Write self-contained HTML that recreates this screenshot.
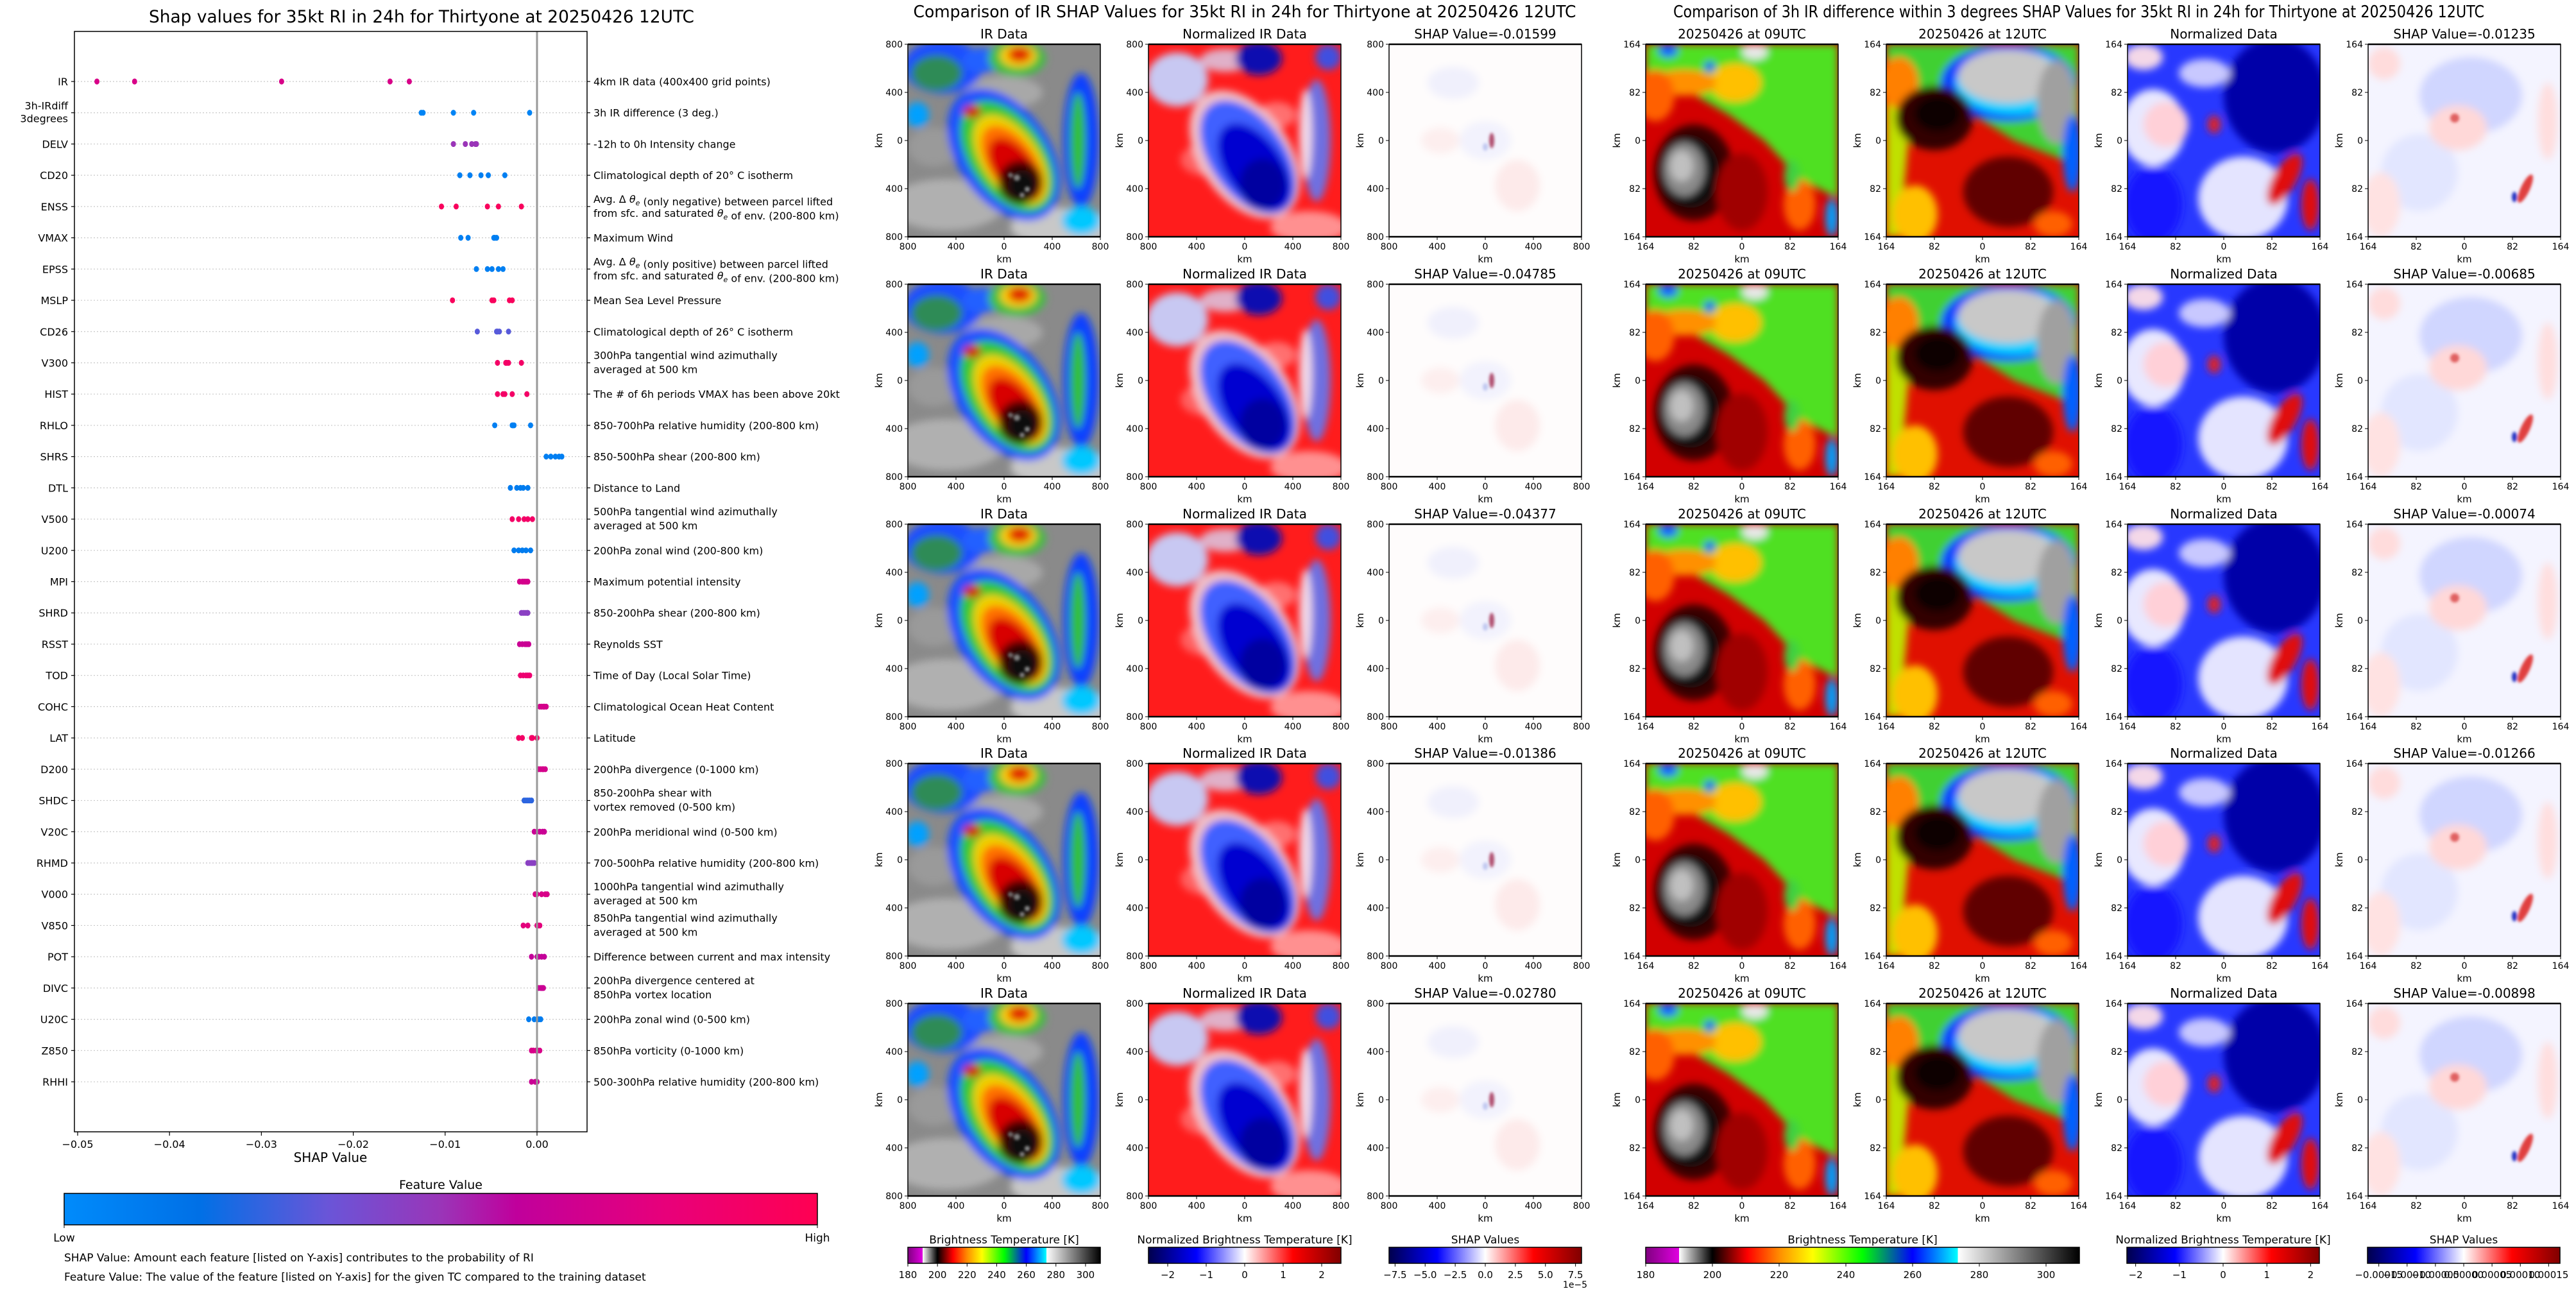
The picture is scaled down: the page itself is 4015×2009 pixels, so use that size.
<!DOCTYPE html>
<html><head><meta charset="utf-8"><title>SHAP RI</title>
<style>html,body{margin:0;padding:0;background:#fff}svg{display:block;font-family:"DejaVu Sans","Liberation Sans",sans-serif}</style>
</head><body>
<svg id="root" width="4015" height="2009" viewBox="0 0 4015 2009" xmlns="http://www.w3.org/2000/svg">
<defs>
<clipPath id="pclip"><rect x="0" y="0" width="300" height="300"/></clipPath>
<filter id="bl" x="-20%" y="-20%" width="140%" height="140%"><feGaussianBlur stdDeviation="6"/></filter>
<filter id="bl2" x="-20%" y="-20%" width="140%" height="140%"><feGaussianBlur stdDeviation="2"/></filter>
<linearGradient id="fvGrad" x1="0" x2="1" y1="0" y2="0">
<stop offset="0" stop-color="#008bfb"/><stop offset="0.18" stop-color="#0070e6"/><stop offset="0.35" stop-color="#6a55d8"/><stop offset="0.5" stop-color="#9a35b8"/><stop offset="0.6" stop-color="#c0009c"/><stop offset="0.8" stop-color="#e8007a"/><stop offset="1" stop-color="#ff0052"/>
</linearGradient>
<linearGradient id="irGrad" x1="0" x2="1" y1="0" y2="0">
<stop offset="0" stop-color="#800080"/><stop offset="0.0769" stop-color="#e000e0"/><stop offset="0.0769" stop-color="#ffffff"/><stop offset="0.1538" stop-color="#000000"/><stop offset="0.235" stop-color="#ff0000"/><stop offset="0.31" stop-color="#ff9000"/><stop offset="0.385" stop-color="#ffff00"/><stop offset="0.5" stop-color="#00ff00"/><stop offset="0.615" stop-color="#0000ff"/><stop offset="0.72" stop-color="#00ffff"/><stop offset="0.72" stop-color="#ffffff"/><stop offset="1" stop-color="#000000"/>
</linearGradient>
<linearGradient id="seisGrad" x1="0" x2="1" y1="0" y2="0">
<stop offset="0" stop-color="#00004c"/><stop offset="0.25" stop-color="#0000ff"/><stop offset="0.5" stop-color="#ffffff"/><stop offset="0.75" stop-color="#ff0000"/><stop offset="1" stop-color="#800000"/>
</linearGradient>

<g id="irMid" clip-path="url(#pclip)">
<rect width="300" height="300" fill="#8a8a8a"/>
<g filter="url(#bl)">
<ellipse cx="60" cy="250" rx="90" ry="40" fill="#b0b0b0"/>
<ellipse cx="240" cy="285" rx="80" ry="30" fill="#c8c8c8"/>
<ellipse cx="40" cy="160" rx="40" ry="30" fill="#9a9a9a"/>
<ellipse cx="150" cy="75" rx="60" ry="25" fill="#a8a8a8"/>
<ellipse cx="55" cy="35" rx="62" ry="42" fill="#1a4dff"/>
<ellipse cx="45" cy="45" rx="40" ry="28" fill="#2e8b57"/>
<ellipse cx="115" cy="25" rx="30" ry="20" fill="#2060ff"/>
<ellipse cx="15" cy="110" rx="18" ry="20" fill="#00a0ff"/>
<ellipse cx="170" cy="22" rx="45" ry="28" fill="#40c040"/>
<ellipse cx="172" cy="18" rx="28" ry="18" fill="#ffd000"/>
<ellipse cx="174" cy="16" rx="18" ry="12" fill="#e02000"/>
<ellipse cx="270" cy="150" rx="28" ry="105" fill="#1040ff"/>
<ellipse cx="265" cy="150" rx="12" ry="75" fill="#30c030"/>
<ellipse cx="150" cy="172" rx="72" ry="115" fill="#1e50ff" transform="rotate(-35 150 172)"/>
<ellipse cx="155" cy="175" rx="58" ry="98" fill="#30c830" transform="rotate(-35 155 175)"/>
<ellipse cx="160" cy="180" rx="44" ry="80" fill="#f0d000" transform="rotate(-35 160 180)"/>
<ellipse cx="163" cy="186" rx="36" ry="68" fill="#ff7000" transform="rotate(-35 163 186)"/>
<ellipse cx="166" cy="195" rx="30" ry="56" fill="#d80000" transform="rotate(-35 166 195)"/>
<ellipse cx="175" cy="215" rx="34" ry="34" fill="#400000"/>
<ellipse cx="178" cy="220" rx="22" ry="24" fill="#101010"/>
<ellipse cx="100" cy="105" rx="14" ry="10" fill="#d02000"/>
<ellipse cx="270" cy="275" rx="30" ry="22" fill="#00c8ff"/>
</g>
<g filter="url(#bl2)"><circle cx="170" cy="208" r="5" fill="#808080"/><circle cx="186" cy="226" r="4" fill="#909090"/><circle cx="160" cy="204" r="4" fill="#707070"/><circle cx="178" cy="235" r="4" fill="#808080"/></g>
</g>

<g id="nrMid" clip-path="url(#pclip)">
<rect width="300" height="300" fill="#ff1c1c"/>
<g filter="url(#bl)">
<ellipse cx="250" cy="285" rx="60" ry="25" fill="#ff9090"/>
<ellipse cx="90" cy="180" rx="40" ry="25" fill="#ff6060"/>
<ellipse cx="200" cy="110" rx="30" ry="20" fill="#ff7070"/>
<ellipse cx="45" cy="55" rx="48" ry="42" fill="#c8c8f2"/>
<ellipse cx="120" cy="25" rx="40" ry="18" fill="#e0b0c8"/>
<ellipse cx="172" cy="22" rx="36" ry="26" fill="#1010b0"/>
<ellipse cx="280" cy="20" rx="20" ry="20" fill="#4050e0"/>
<ellipse cx="262" cy="150" rx="22" ry="95" fill="#7070e0"/>
<ellipse cx="245" cy="140" rx="10" ry="70" fill="#f0d8e8"/>
<ellipse cx="150" cy="172" rx="70" ry="112" fill="#f0c0c8" transform="rotate(-35 150 172)"/>
<ellipse cx="155" cy="176" rx="58" ry="100" fill="#4060ff" transform="rotate(-35 155 176)"/>
<ellipse cx="165" cy="192" rx="44" ry="78" fill="#0000d0" transform="rotate(-35 165 192)"/>
<ellipse cx="178" cy="218" rx="36" ry="40" fill="#0000a0"/>
</g>
</g>

<g id="shMid" clip-path="url(#pclip)">
<rect width="300" height="300" fill="#fefcfc"/>
<g filter="url(#bl)">
<ellipse cx="100" cy="60" rx="40" ry="25" fill="#f0f0fc"/>
<ellipse cx="200" cy="220" rx="35" ry="40" fill="#fdeaea"/>
<ellipse cx="150" cy="150" rx="40" ry="30" fill="#f2f2fd"/>
<ellipse cx="80" cy="150" rx="30" ry="20" fill="#fdeeee"/>
</g>
<g filter="url(#bl2)">
<ellipse cx="160" cy="150" rx="4" ry="12" fill="#b05070"/>
<ellipse cx="150" cy="160" rx="4" ry="6" fill="#c0c8f0"/>
</g>
</g>

<g id="r09" clip-path="url(#pclip)">
<rect width="300" height="300" fill="#d20000"/>
<g filter="url(#bl)">
<polygon points="0,0 300,0 300,240 240,210 185,150 130,110 70,75 0,55" fill="#50e020"/>
<ellipse cx="140" cy="60" rx="40" ry="30" fill="#ffc000"/>
<ellipse cx="60" cy="60" rx="50" ry="20" fill="#ff9000"/>
<ellipse cx="15" cy="80" rx="30" ry="40" fill="#ff6000"/>
<ellipse cx="35" cy="10" rx="15" ry="10" fill="#1060ff"/>
<ellipse cx="100" cy="35" rx="8" ry="8" fill="#1040ff"/>
<ellipse cx="170" cy="12" rx="20" ry="12" fill="#e8e8e8"/>
<ellipse cx="290" cy="270" rx="10" ry="30" fill="#00a0ff"/>
<ellipse cx="75" cy="200" rx="62" ry="75" fill="#3a0000"/>
<ellipse cx="70" cy="200" rx="45" ry="55" fill="#080808"/>
<ellipse cx="60" cy="195" rx="32" ry="42" fill="#8a8a8a"/>
<ellipse cx="56" cy="190" rx="18" ry="24" fill="#c0c0c0"/>
<ellipse cx="150" cy="230" rx="40" ry="60" fill="#a00000"/>
<ellipse cx="240" cy="250" rx="25" ry="40" fill="#ff6000"/>
<ellipse cx="228" cy="205" rx="12" ry="25" fill="#40d040"/>
</g>
</g>

<g id="r12" clip-path="url(#pclip)">
<rect width="300" height="300" fill="#e01000"/>
<g filter="url(#bl)">
<polygon points="0,0 300,0 300,190 200,150 120,100 45,95 20,40 0,30" fill="#40d030"/>
<polygon points="0,60 40,90 30,200 20,300 0,300" fill="#c0e000"/>
<ellipse cx="45" cy="265" rx="35" ry="45" fill="#ffc000"/>
<ellipse cx="20" cy="60" rx="30" ry="40" fill="#ff8000"/>
<ellipse cx="190" cy="60" rx="105" ry="60" fill="#1040ff"/>
<ellipse cx="200" cy="60" rx="92" ry="50" fill="#00d0ff"/>
<ellipse cx="190" cy="50" rx="78" ry="42" fill="#c8c8c8"/>
<ellipse cx="265" cy="90" rx="30" ry="65" fill="#a0a0a0"/>
<ellipse cx="290" cy="170" rx="15" ry="60" fill="#0060ff"/>
<ellipse cx="75" cy="115" rx="60" ry="50" fill="#300000"/>
<ellipse cx="80" cy="108" rx="36" ry="28" fill="#100000"/>
<ellipse cx="190" cy="230" rx="70" ry="55" fill="#600000"/>
<ellipse cx="260" cy="280" rx="30" ry="20" fill="#ff6000"/>
</g>
</g>

<g id="r3n" clip-path="url(#pclip)">
<rect width="300" height="300" fill="#2838ff"/>
<g filter="url(#bl)">
<ellipse cx="230" cy="80" rx="80" ry="90" fill="#0000a8"/>
<ellipse cx="40" cy="130" rx="50" ry="60" fill="#e8e8ff"/>
<ellipse cx="60" cy="125" rx="35" ry="35" fill="#ffd0d8"/>
<ellipse cx="40" cy="250" rx="45" ry="60" fill="#1818ff"/>
<ellipse cx="180" cy="240" rx="70" ry="65" fill="#e4e4ff"/>
<ellipse cx="245" cy="210" rx="18" ry="45" fill="#e01010" transform="rotate(30 245 210)"/>
<ellipse cx="285" cy="250" rx="14" ry="40" fill="#e01010"/>
<ellipse cx="25" cy="20" rx="30" ry="20" fill="#f4d8e8"/>
<ellipse cx="120" cy="45" rx="40" ry="22" fill="#c8c8ff"/>
<ellipse cx="135" cy="125" rx="10" ry="14" fill="#e02020"/>
</g>
</g>

<g id="r4s" clip-path="url(#pclip)">
<rect width="300" height="300" fill="#f4f4ff"/>
<g filter="url(#bl)">
<ellipse cx="160" cy="80" rx="80" ry="60" fill="#d0d6ff"/>
<ellipse cx="80" cy="200" rx="60" ry="60" fill="#e2e6ff"/>
<ellipse cx="140" cy="130" rx="45" ry="35" fill="#ffd8d8"/>
<ellipse cx="25" cy="30" rx="25" ry="25" fill="#ffdcdc"/>
<ellipse cx="20" cy="250" rx="30" ry="50" fill="#ffe2e2"/>
<ellipse cx="280" cy="120" rx="15" ry="60" fill="#ffdede"/>
</g>
<g filter="url(#bl2)">
<ellipse cx="245" cy="225" rx="7" ry="24" fill="#e04040" transform="rotate(25 245 225)"/>
<ellipse cx="228" cy="238" rx="4" ry="8" fill="#2030c0"/>
<ellipse cx="135" cy="115" rx="7" ry="7" fill="#e06060"/>
</g>
</g>
</defs>
</svg>
<script>
// ===== Left SHAP chart data =====
const features = ["IR","3h-IRdiff|3degrees","DELV","CD20","ENSS","VMAX","EPSS","MSLP","CD26","V300","HIST","RHLO","SHRS","DTL","V500","U200","MPI","SHRD","RSST","TOD","COHC","LAT","D200","SHDC","V20C","RHMD","V000","V850","POT","DIVC","U20C","Z850","RHHI"];
const descriptions = ["4km IR data (400x400 grid points)","3h IR difference (3 deg.)","-12h to 0h Intensity change","Climatological depth of 20° C isotherm","Avg. Δ θe (only negative) between parcel lifted|from sfc. and saturated θe of env. (200-800 km)","Maximum Wind","Avg. Δ θe (only positive) between parcel lifted|from sfc. and saturated θe of env. (200-800 km)","Mean Sea Level Pressure","Climatological depth of 26° C isotherm","300hPa tangential wind azimuthally|averaged at 500 km","The # of 6h periods VMAX has been above 20kt","850-700hPa relative humidity (200-800 km)","850-500hPa shear (200-800 km)","Distance to Land","500hPa tangential wind azimuthally|averaged at 500 km","200hPa zonal wind (200-800 km)","Maximum potential intensity","850-200hPa shear (200-800 km)","Reynolds SST","Time of Day (Local Solar Time)","Climatological Ocean Heat Content","Latitude","200hPa divergence (0-1000 km)","850-200hPa shear with|vortex removed (0-500 km)","200hPa meridional wind (0-500 km)","700-500hPa relative humidity (200-800 km)","1000hPa tangential wind azimuthally|averaged at 500 km","850hPa tangential wind azimuthally|averaged at 500 km","Difference between current and max intensity","200hPa divergence centered at|850hPa vortex location","200hPa zonal wind (0-500 km)","850hPa vorticity (0-1000 km)","500-300hPa relative humidity (200-800 km)"];
const featureValues = [0.72,0.05,0.5,0.08,0.95,0.08,0.08,0.95,0.32,0.9,0.9,0.08,0.08,0.1,0.9,0.1,0.7,0.45,0.65,0.85,0.7,0.9,0.7,0.25,0.65,0.45,0.72,0.78,0.62,0.65,0.1,0.72,0.65];
const shapValues = [
[-0.0479,-0.0438,-0.0278,-0.0160,-0.0139],
[-0.0126,-0.0124,-0.0091,-0.0069,-0.0008],
[-0.0091,-0.0078,-0.0071,-0.0067,-0.0066],
[-0.0084,-0.0073,-0.0061,-0.0053,-0.0035],
[-0.0104,-0.0088,-0.0054,-0.0042,-0.0017],
[-0.0083,-0.0075,-0.0047,-0.0046,-0.0044],
[-0.0066,-0.0054,-0.0049,-0.0042,-0.0037],
[-0.0092,-0.0049,-0.0047,-0.0030,-0.0027],
[-0.0065,-0.0044,-0.0043,-0.0041,-0.0031],
[-0.0043,-0.0034,-0.0033,-0.0031,-0.0017],
[-0.0043,-0.0037,-0.0035,-0.0027,-0.0011],
[-0.0046,-0.0027,-0.0026,-0.0025,-0.0007],
[0.0010,0.0015,0.0020,0.0024,0.0027],
[-0.0029,-0.0022,-0.0018,-0.0015,-0.0010],
[-0.0027,-0.0020,-0.0014,-0.0010,-0.0005],
[-0.0025,-0.0020,-0.0016,-0.0012,-0.0007],
[-0.0019,-0.0016,-0.0014,-0.0012,-0.0010],
[-0.0017,-0.0015,-0.0013,-0.0011,-0.0010],
[-0.0019,-0.0016,-0.0013,-0.0011,-0.0009],
[-0.0018,-0.0015,-0.0012,-0.0010,-0.0008],
[0.0003,0.0005,0.0007,0.0008,0.0010],
[-0.0020,-0.0016,-0.0006,-0.0005,0.0000],
[0.0002,0.0004,0.0006,0.0007,0.0009],
[-0.0014,-0.0012,-0.0010,-0.0008,-0.0006],
[-0.0003,0.0000,0.0003,0.0006,0.0008],
[-0.0010,-0.0008,-0.0006,-0.0005,-0.0003],
[-0.0002,0.0000,0.0005,0.0009,0.0011],
[-0.0015,-0.0010,0.0000,0.0002,0.0003],
[-0.0006,0.0000,0.0002,0.0005,0.0008],
[0.0002,0.0004,0.0005,0.0006,0.0007],
[-0.0009,-0.0003,0.0000,0.0002,0.0004],
[-0.0006,-0.0004,-0.0001,0.0001,0.0003],
[-0.0006,-0.0002,-0.0001,0.0000,0.0000]
];
const xTicks = [-0.05,-0.04,-0.03,-0.02,-0.01,0.00];
const xTickLabels = ["\u22120.05","\u22120.04","\u22120.03","\u22120.02","\u22120.01","0.00"];

// ===== Panel data =====
const midShapValues = ["-0.01599","-0.04785","-0.04377","-0.01386","-0.02780"];
const rightShapValues = ["-0.01235","-0.00685","-0.00074","-0.01266","-0.00898"];
const midTickLabels = ["800","400","0","400","800"];
const rightTickLabels = ["164","82","0","82","164"];
const irCbTicks = [180,200,220,240,260,280,300];
const normCbTicksMid = [-2,-1,0,1,2];
const shapCbTicksMid = [-7.5,-5.0,-2.5,0.0,2.5,5.0,7.5];
const normCbTicksRight = [-2,-1,0,1,2];
const shapCbTicksRight = [-0.00015,-0.00010,-0.00005,0.00000,0.00005,0.00010,0.00015];

const NS = "http://www.w3.org/2000/svg";
const root = document.getElementById("root");
function mk(tag, attrs, parent) {
  const e = document.createElementNS(NS, tag);
  for (const k in attrs) e.setAttribute(k, attrs[k]);
  (parent || root).appendChild(e);
  return e;
}
function tx(x, y, s, size, anchor, parent) {
  const e = mk("text", {x: x, y: y, "font-size": size, "text-anchor": anchor || "middle", fill: "#000"}, parent);
  e.textContent = s;
  return e;
}
function hex(c){return parseInt(c,16);}
const fvStops = [[0,"008bfb"],[0.18,"0070e6"],[0.35,"6a55d8"],[0.5,"9a35b8"],[0.6,"c0009c"],[0.8,"e8007a"],[1,"ff0052"]];
function colorAt(t) {
  for (let i = 0; i < fvStops.length - 1; i++) {
    const a = fvStops[i], b = fvStops[i+1];
    if (t <= b[0]) {
      const f = (t - a[0]) / (b[0] - a[0]);
      const ch = j => Math.round(hex(a[1].substr(j,2)) * (1-f) + hex(b[1].substr(j,2)) * f);
      return "rgb(" + ch(0) + "," + ch(2) + "," + ch(4) + ")";
    }
  }
  return "#ff0052";
}

// ===== Left chart =====
const AX = {l: 116, r: 915, t: 49, b: 1764};
const xScale = v => 837 + v * 14320;
const yScale = i => 127 + i * 48.72;

const chart = mk("g", {});


const ttl = tx(657, 35, "Shap values for 35kt RI in 24h for Thirtyone at 20250426 12UTC", 27, "middle", chart);
ttl.setAttribute("textLength", "850");
ttl.setAttribute("lengthAdjust", "spacingAndGlyphs");



features.forEach((f, i) => {
  const y = yScale(i);
  const row = mk("g", {}, chart);
  
  
  mk("line", {x1: AX.l, x2: AX.r, y1: y, y2: y, stroke: "#c8c8c8", "stroke-width": 1.2, "stroke-dasharray": "2,3"}, row);
  mk("line", {x1: AX.l - 5, x2: AX.l, y1: y, y2: y, stroke: "#000", "stroke-width": 1.2}, row);
  mk("line", {x1: AX.r, x2: AX.r + 5, y1: y, y2: y, stroke: "#000", "stroke-width": 1.2}, row);
  const parts = f.split("|");
  if (parts.length === 1) {
    const t = tx(AX.l - 10, y + 6, parts[0], 16, "end", row);
    
    
  } else {
    tx(AX.l - 10, y - 5, parts[0], 16, "end", row);
    tx(AX.l - 10, y + 15, parts[1], 16, "end", row);
  }
  const d = descriptions[i].split("|");
  const dy0 = d.length === 1 ? [6] : [-6, 16];
  d.forEach((line, k) => {
    const t = mk("text", {x: AX.r + 10, y: y + dy0[k], "font-size": 16, fill: "#000"}, row);
    
    
    const segs = line.split("θe");
    segs.forEach((s, j) => {
      const ts = mk("tspan", {}, t); ts.textContent = s;
      if (j < segs.length - 1) {
        const th = mk("tspan", {"font-style": "italic"}, t); th.textContent = "θ";
        const sub = mk("tspan", {"font-size": 11, dy: 4, "font-style": "italic"}, t); sub.textContent = "e";
        const back = mk("tspan", {dy: -4}, t); back.textContent = "";
      }
    });
  });
  shapValues[i].forEach(v => {
    const c = mk("ellipse", {cx: xScale(v), cy: y, rx: 4, ry: 4.6, fill: colorAt(featureValues[i])}, row);
    
    
  });
});
const zl = mk("line", {x1: xScale(0), x2: xScale(0), y1: AX.t, y2: AX.b, stroke: "#999", "stroke-width": 3}, chart);


const frame = mk("rect", {x: AX.l, y: AX.t, width: AX.r - AX.l, height: AX.b - AX.t, fill: "none", stroke: "#000", "stroke-width": 1.5}, chart);


xTicks.forEach((v, k) => {
  mk("line", {x1: xScale(v), x2: xScale(v), y1: AX.b, y2: AX.b + 6, stroke: "#000", "stroke-width": 1.2}, chart);
  const t = tx(xScale(v), AX.b + 25, xTickLabels[k], 16, "middle", chart);
  
  
});
const xl = tx(515, 1811, "SHAP Value", 20, "middle", chart);


const fvt = tx(687, 1853, "Feature Value", 19, "middle", chart);


const fvb = mk("rect", {x: 100, y: 1860, width: 1174, height: 49, fill: "url(#fvGrad)", stroke: "#000", "stroke-width": 1.5}, chart);


mk("line", {x1: 100, x2: 100, y1: 1909, y2: 1914, stroke: "#000"}, chart);
mk("line", {x1: 1274, x2: 1274, y1: 1909, y2: 1914, stroke: "#000"}, chart);
const lo = tx(100, 1935, "Low", 17, "middle", chart);


const hi = tx(1274, 1935, "High", 17, "middle", chart);


const c1 = tx(100, 1966, "SHAP Value: Amount each feature [listed on Y-axis] contributes to the probability of RI", 17, "start", chart);


const c2 = tx(100, 1996, "Feature Value: The value of the feature [listed on Y-axis] for the given TC compared to the training dataset", 17, "start", chart);



// ===== Image panels =====
const rowTops = [69, 443, 817, 1190, 1564];
const PW = 300;
function panel(x, y, ref, title, ticks, name) {
  const g = mk("g", {});
  
  
  mk("use", {href: "#" + ref, x: x, y: y}, g);
  mk("rect", {x: x, y: y, width: PW, height: PW, fill: "none", stroke: "#000", "stroke-width": 1.5}, g);
  mk("line", {x1: x, x2: x + PW, y1: y, y2: y, stroke: "#000", "stroke-width": 2.5}, g);
  mk("line", {x1: x, x2: x + PW, y1: y + PW, y2: y + PW, stroke: "#000", "stroke-width": 2.5}, g);
  const t = tx(x + PW / 2, y - 9, title, 20, "middle", g);
  
  
  ticks.forEach((lab, k) => {
    const p = k * PW / 4;
    mk("line", {x1: x - 5, x2: x, y1: y + p, y2: y + p, stroke: "#000"}, g);
    tx(x - 8, y + p + 5, lab, 14, "end", g);
    mk("line", {x1: x + p, x2: x + p, y1: y + PW, y2: y + PW + 5, stroke: "#000"}, g);
    tx(x + p, y + PW + 20, lab, 14, "middle", g);
  });
  tx(x + PW / 2, y + PW + 40, "km", 15, "middle", g);
  const yk = tx(0, 0, "km", 15, "middle", g);
  yk.setAttribute("transform", "translate(" + (x - 40) + "," + (y + PW / 2) + ") rotate(-90)");
}
const midX = [1415, 1790, 2165];
const rightX = [2565, 2940, 3316, 3691];
rowTops.forEach((y, r) => {
  panel(midX[0], y, "irMid", "IR Data", midTickLabels, "ir-data-panel-" + (r + 1));
  panel(midX[1], y, "nrMid", "Normalized IR Data", midTickLabels, "normalized-ir-panel-" + (r + 1));
  panel(midX[2], y, "shMid", "SHAP Value=" + midShapValues[r], midTickLabels, "ir-shap-panel-" + (r + 1));
  panel(rightX[0], y, "r09", "20250426 at 09UTC", rightTickLabels, "ir-09utc-panel-" + (r + 1));
  panel(rightX[1], y, "r12", "20250426 at 12UTC", rightTickLabels, "ir-12utc-panel-" + (r + 1));
  panel(rightX[2], y, "r3n", "Normalized Data", rightTickLabels, "normalized-diff-panel-" + (r + 1));
  panel(rightX[3], y, "r4s", "SHAP Value=" + rightShapValues[r], rightTickLabels, "diff-shap-panel-" + (r + 1));
});
const mt = tx(1940, 27, "Comparison of IR SHAP Values for 35kt RI in 24h for Thirtyone at 20250426 12UTC", 26, "middle");
mt.setAttribute("textLength", "1033");
mt.setAttribute("lengthAdjust", "spacingAndGlyphs");


const rt = tx(3240, 27, "Comparison of 3h IR difference within 3 degrees SHAP Values for 35kt RI in 24h for Thirtyone at 20250426 12UTC", 26, "middle");
rt.setAttribute("textLength", "1264");
rt.setAttribute("lengthAdjust", "spacingAndGlyphs");



// ===== Colorbars =====
function cbar(x, w, grad, title, ticks, lo, hi, fmt, name) {
  const g = mk("g", {});
  
  
  tx(x + w / 2, 1938, title, 17, "middle", g);
  mk("rect", {x: x, y: 1944, width: w, height: 25, fill: "url(#" + grad + ")", stroke: "#000", "stroke-width": 1.5}, g);
  ticks.forEach(v => {
    const px = x + (v - lo) / (hi - lo) * w;
    mk("line", {x1: px, x2: px, y1: 1969, y2: 1974, stroke: "#000"}, g);
    tx(px, 1992, fmt(v), 15, "middle", g);
  });
}
const minus = s => s.replace("-", "\u2212");
cbar(1415, 300, "irGrad", "Brightness Temperature [K]", irCbTicks, 180, 310, v => String(v), "ir-colorbar-mid");
cbar(1790, 300, "seisGrad", "Normalized Brightness Temperature [K]", normCbTicksMid, -2.5, 2.5, v => minus(String(v)), "normalized-colorbar-mid");
cbar(2165, 300, "seisGrad", "SHAP Values", shapCbTicksMid, -8, 8, v => minus(v.toFixed(1)), "shap-colorbar-mid");
const ex = tx(2455, 2007, "1e\u22125", 14, "middle");


cbar(2565, 676, "irGrad", "Brightness Temperature [K]", irCbTicks, 180, 310, v => String(v), "ir-colorbar-right");
cbar(3315, 300, "seisGrad", "Normalized Brightness Temperature [K]", normCbTicksRight, -2.2, 2.2, v => minus(String(v)), "normalized-colorbar-right");
cbar(3690, 300, "seisGrad", "SHAP Values", shapCbTicksRight, -0.00017, 0.00017, v => minus(v.toFixed(5)), "shap-colorbar-right");
</script>
</body></html>
